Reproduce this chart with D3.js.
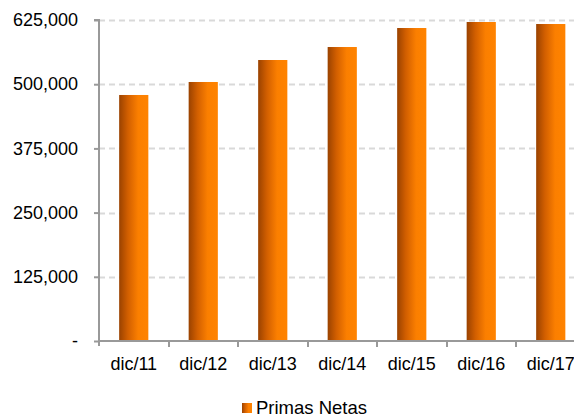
<!DOCTYPE html>
<html>
<head>
<meta charset="utf-8">
<script src="https://cdn.jsdelivr.net/npm/d3@7"></script>
<style>
  html, body { margin: 0; padding: 0; background: #fff; }
  svg { display: block; font-family: "Liberation Sans", Arial, sans-serif; }
</style>
</head>
<body>
<svg id="chart" width="574" height="417"></svg>
<script>
// Net premiums by year-end period
const categories = ["dic/11", "dic/12", "dic/13", "dic/14", "dic/15", "dic/16", "dic/17"];
const primasNetas = [479000, 504300, 547100, 572400, 609400, 621100, 617200];
const yTicks = [0, 125000, 250000, 375000, 500000, 625000];
const seriesName = "Primas Netas";

const svg = d3.select("#chart");
const plotLeft = 99, plotTop = 20, plotBottom = 341;
const bandW = 69.5;
const plotRight = plotLeft + bandW * categories.length;
const fontSize = "18px";

const x = d3.scaleBand().domain(categories).range([plotLeft, plotRight]).paddingInner(0.58).paddingOuter(0.29);
const y = d3.scaleLinear().domain([0, 625000]).range([plotBottom, plotTop]);

// bar gradient: dark on the left fading to bright orange
const defs = svg.append("defs");
const grad = defs.append("linearGradient").attr("id", "barGrad")
  .attr("x1", "0%").attr("x2", "100%").attr("y1", "0%").attr("y2", "0%");
grad.append("stop").attr("offset", "0%").attr("stop-color", "#9a4200");
grad.append("stop").attr("offset", "30%").attr("stop-color", "#d25f00");
grad.append("stop").attr("offset", "65%").attr("stop-color", "#fb7f00");
grad.append("stop").attr("offset", "100%").attr("stop-color", "#ff8300");

// horizontal dashed gridlines
svg.append("g").selectAll("line")
  .data(yTicks.filter(d => d > 0))
  .join("line")
  .attr("x1", plotLeft).attr("x2", 574)
  .attr("y1", d => Math.round(y(d)) + 0.5).attr("y2", d => Math.round(y(d)) + 0.5)
  .attr("stroke", "#d9d9d9").attr("stroke-width", 2)
  .attr("stroke-dasharray", "6,4");

// bars
svg.append("g").selectAll("rect")
  .data(categories.map((c, i) => ({ c, v: primasNetas[i] })))
  .join("rect")
  .attr("x", d => x(d.c))
  .attr("width", x.bandwidth())
  .attr("y", d => y(d.v))
  .attr("height", d => plotBottom - y(d.v))
  .attr("fill", "url(#barGrad)");

// y axis
const fmt = d => d === 0 ? "-" : d3.format(",")(d);
const yAxis = d3.axisLeft(y).tickValues(yTicks).tickFormat(fmt).tickSize(5).tickPadding(16);
const gy = svg.append("g").attr("transform", `translate(${plotLeft},0)`).call(yAxis);
gy.attr("font-family", null).attr("font-size", null);
gy.select(".domain").attr("stroke", "#999").attr("stroke-width", 2)
  .attr("d", `M-5,${plotTop}H0V${plotBottom + 5}`);
gy.selectAll(".tick line").attr("stroke", "#999").attr("stroke-width", 2);
gy.selectAll(".tick text").attr("fill", "#000").style("font-size", fontSize);

// x axis with ticks at category boundaries
const gap = (x.step() - x.bandwidth()) / 2;
const gx = svg.append("g");
gx.append("line").attr("x1", plotLeft).attr("x2", 574)
  .attr("y1", plotBottom).attr("y2", plotBottom)
  .attr("stroke", "#999").attr("stroke-width", 2);
gx.selectAll("line.tk")
  .data(categories.slice(1))
  .join("line").attr("class", "tk")
  .attr("x1", d => Math.round(x(d) - gap))
  .attr("x2", d => Math.round(x(d) - gap))
  .attr("y1", plotBottom).attr("y2", plotBottom + 6)
  .attr("stroke", "#999").attr("stroke-width", 2);
gx.selectAll("text")
  .data(categories)
  .join("text")
  .attr("x", d => x(d) + x.bandwidth() / 2)
  .attr("y", 370)
  .attr("text-anchor", "middle")
  .style("font-size", fontSize)
  .attr("fill", "#000")
  .text(d => d);

// legend
const lg = svg.append("g").attr("transform", "translate(242,403)");
lg.append("rect").attr("x", 0).attr("y", 0).attr("width", 10).attr("height", 10).attr("fill", "url(#barGrad)");
lg.append("text").attr("x", 14).attr("y", 11).style("font-size", "18.5px").attr("fill", "#000").text(seriesName);
</script>
</body>
</html>
